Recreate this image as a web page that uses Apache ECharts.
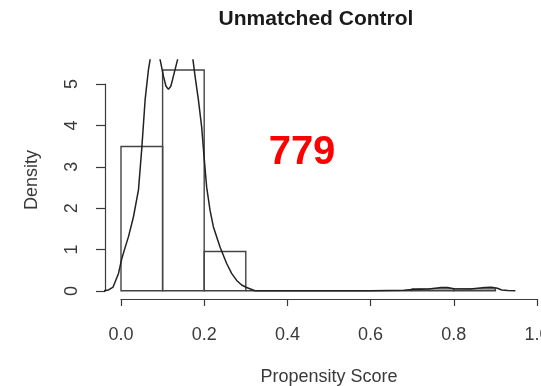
<!DOCTYPE html>
<html>
<head>
<meta charset="utf-8">
<script src="https://cdn.jsdelivr.net/npm/echarts@6/dist/echarts.min.js"></script>
<style>
  html, body { margin: 0; padding: 0; background: #fff; }
  #chart { width: 541px; height: 386px; }
</style>
</head>
<body>
<div id="chart"></div>
<script>
// Histogram of propensity scores (density scale), bins of width 0.1
const binBreaks = [0, 0.1, 0.2, 0.3, 0.4, 0.5, 0.6, 0.7, 0.8, 0.9];
const binDensity = [3.49, 5.34, 0.95, 0, 0, 0, 0, 0.045, 0.045];

// Kernel density estimate overlaid on the histogram
const kdeX = [-0.043, -0.030, -0.019, -0.006, 0.002, 0.010, 0.018, 0.030, 0.042, 0.050,
              0.058, 0.066, 0.070, 0.076, 0.082, 0.088, 0.094, 0.102, 0.108, 0.114,
              0.120, 0.126, 0.136, 0.145, 0.154, 0.164, 0.173, 0.178, 0.186, 0.194,
              0.200, 0.206, 0.214, 0.222, 0.238, 0.254, 0.266, 0.278, 0.290, 0.302,
              0.322, 0.40, 0.50, 0.60, 0.68, 0.70, 0.74, 0.77, 0.785, 0.80,
              0.84, 0.875, 0.89, 0.905, 0.915, 0.93, 0.948];
const kdeY = [0, 0.02, 0.09, 0.42, 0.78, 1.05, 1.31, 1.79, 2.44, 3.45,
              4.62, 5.35, 5.59, 6.10, 6.35, 6.10, 5.59, 5.19, 4.95, 4.87,
              4.95, 5.19, 5.59, 6.10, 6.30, 6.10, 5.59, 5.19, 4.62, 3.95,
              3.20, 2.50, 1.95, 1.55, 1.06, 0.66, 0.42, 0.25, 0.14, 0.08,
              0, 0, 0, 0, 0.01, 0.03, 0.045, 0.08, 0.08, 0.05,
              0.045, 0.08, 0.085, 0.06, 0.02, 0.005, 0];

// Axis ticks
const xTicks = [0, 0.2, 0.4, 0.6, 0.8, 1.0];
const yTicks = [0, 1, 2, 3, 4, 5];

const titleText = 'Unmatched Control';
const xLabel = 'Propensity Score';
const yLabel = 'Density';
const countLabel = '779';

const FONT = '"Liberation Sans", Arial, sans-serif';
const INK = '#3a3a3a';

const histData = binDensity.map((d, i) => [binBreaks[i], binBreaks[i + 1], d]);
const kdeData = kdeX.map((x, i) => [x, kdeY[i]]);

const chart = echarts.init(document.getElementById('chart'), null, { renderer: 'canvas' });

const gridBase = { containLabel: false, outerBoundsMode: 'none' };

chart.setOption({
  animation: false,
  backgroundColor: '#fff',
  title: [
    {
      text: titleText, left: 316, top: 9, textAlign: 'center', padding: 0,
      textStyle: { fontFamily: FONT, fontSize: 21, fontWeight: 'bold', color: '#1a1a1a' }
    },
    {
      text: countLabel, left: 302, top: 133, textAlign: 'center', padding: 0,
      textStyle: { fontFamily: FONT, fontSize: 40, fontWeight: 'bold', color: '#ff0000' }
    }
  ],
  grid: [
    // plotting region
    Object.assign({ left: 105, right: 14, top: 60, bottom: 86 }, gridBase),
    // x axis display (0 .. 1)
    Object.assign({ left: 121, right: 4, top: 60, bottom: 87 }, gridBase),
    // y axis display (0 .. 5)
    Object.assign({ left: 105, right: 14, top: 84, bottom: 95 }, gridBase)
  ],
  xAxis: [
    {
      gridIndex: 0, type: 'value', min: -0.03846, max: 0.976,
      axisLine: { show: false }, axisTick: { show: false },
      axisLabel: { show: false }, splitLine: { show: false }
    },
    {
      gridIndex: 1, type: 'value', min: xTicks[0], max: xTicks[xTicks.length - 1], interval: 0.2,
      axisLine: { show: true, onZero: false, lineStyle: { color: INK, width: 1.2 } },
      axisTick: { show: true, length: 7, lineStyle: { color: INK, width: 1.2 } },
      axisLabel: {
        show: true, margin: 27, fontFamily: FONT, fontSize: 18, color: INK,
        hideOverlap: false, showMaxLabel: true,
        formatter: v => v.toFixed(1)
      },
      splitLine: { show: false },
      name: xLabel, nameLocation: 'middle', nameGap: 69,
      nameTextStyle: { fontFamily: FONT, fontSize: 18, color: INK }
    },
    {
      gridIndex: 2, type: 'value', min: 0, max: 1, show: false
    }
  ],
  yAxis: [
    {
      gridIndex: 0, type: 'value', min: -0.223, max: 5.58,
      axisLine: { show: false }, axisTick: { show: false },
      axisLabel: { show: false }, splitLine: { show: false },
      name: yLabel, nameLocation: 'middle', nameGap: 64, nameRotate: 90,
      nameTextStyle: { fontFamily: FONT, fontSize: 18, color: INK }
    },
    {
      gridIndex: 1, type: 'value', min: 0, max: 1, show: false
    },
    {
      gridIndex: 2, type: 'value', min: yTicks[0], max: yTicks[yTicks.length - 1], interval: 1,
      axisLine: { show: true, onZero: false, lineStyle: { color: INK, width: 1.2 } },
      axisTick: { show: true, length: 9, lineStyle: { color: INK, width: 1.2 } },
      axisLabel: { show: true, margin: 24, rotate: 90, fontFamily: FONT, fontSize: 18, color: INK },
      splitLine: { show: false }
    }
  ],
  series: [
    {
      type: 'custom',
      xAxisIndex: 0, yAxisIndex: 0,
      data: histData,
      renderItem: function (params, api) {
        const p0 = api.coord([api.value(0), api.value(2)]);
        const p1 = api.coord([api.value(1), 0]);
        return {
          type: 'rect',
          shape: { x: p0[0], y: p0[1], width: p1[0] - p0[0], height: p1[1] - p0[1] },
          style: { fill: 'none', stroke: '#444', lineWidth: 1.4 }
        };
      },
      silent: true
    },
    {
      type: 'line',
      xAxisIndex: 0, yAxisIndex: 0,
      data: kdeData,
      symbol: 'none',
      clip: true,
      lineStyle: { color: '#222', width: 1.5 },
      silent: true
    }
  ]
});
</script>
</body>
</html>
